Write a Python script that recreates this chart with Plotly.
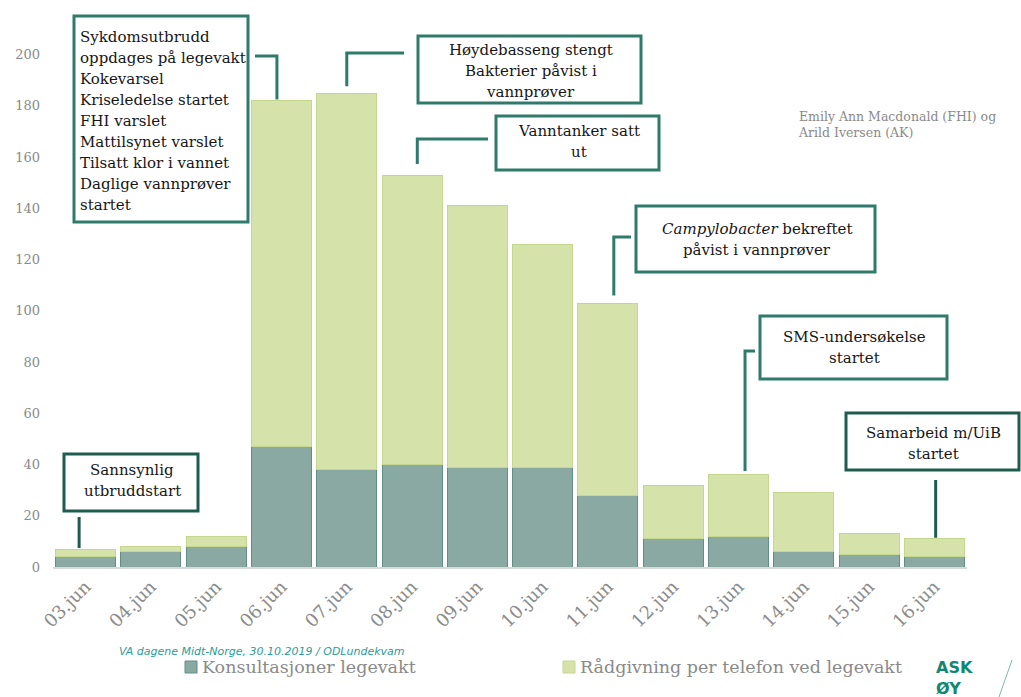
import plotly.graph_objects as go

# Daily contacts at the out-of-hours clinic, June 2019
days = ["03.jun", "04.jun", "05.jun", "06.jun", "07.jun", "08.jun", "09.jun",
        "10.jun", "11.jun", "12.jun", "13.jun", "14.jun", "15.jun", "16.jun"]
konsultasjoner = [4, 6, 8, 47, 38, 40, 39, 39, 28, 11, 12, 6, 5, 4]
telefon = [3, 2, 4, 135, 147, 113, 102, 87, 75, 21, 24, 23, 8, 7]
series_names = ["Konsultasjoner legevakt", "Rådgivning per telefon ved legevakt"]
y_ticks = [0, 20, 40, 60, 80, 100, 120, 140, 160, 180, 200]

totals = [a + b for a, b in zip(konsultasjoner, telefon)]

W, H = 1021, 697
L, R, T, B = 53, 54, 29, 130
YMAX = 210
plot_w = W - L - R
plot_h = H - T - B

DARK = "#8aa9a3"
DARK_LINE = "#5f8f86"
LIGHT = "#d5e2aa"
LIGHT_LINE = "#c4d78e"
BOX = "#2f7b6b"
BOX_DARK = "#1f5c50"
SERIF = "DejaVu Serif"
LINE_STEP = 21


def fx(px):
    return (px - L) / plot_w


def fy(py):
    return (H - B - py) / plot_h


def cat_x(i, shift=0.0):
    return (i + 0.5 + shift) / len(days)


fig = go.Figure()
fig.add_trace(go.Bar(x=days, y=konsultasjoner, name=series_names[0],
                     marker=dict(color=DARK, line=dict(color=DARK_LINE, width=1))))
fig.add_trace(go.Bar(x=days, y=telefon, name=series_names[1],
                     marker=dict(color=LIGHT, line=dict(color=LIGHT_LINE, width=1))))

shapes = []
annotations = []

# Event call-outs: box (px x0, y0, x1, y1), text lines, first line y, align, colour,
# connector elbow (px x, px y), bar index, x shift, gap above bar (units)
events = [
    ((74, 16, 248, 222),
     ["Sykdomsutbrudd", "oppdages på legevakt", "Kokevarsel", "Kriseledelse startet",
      "FHI varslet", "Mattilsynet varslet", "Tilsatt klor i vannet", "Daglige vannprøver",
      "startet"],
     37, "left", BOX, (255, 56), 3, -0.07, 0.5),
    ((418, 36, 641, 103), ["Høydebasseng stengt", "Bakterier påvist i", "vannprøver"],
     50, "center", BOX, (404, 53), 4, 0.0, 2.7),
    ((496, 116, 659, 170), ["Vanntanker satt", "ut"],
     131, "center", BOX, (488, 139), 5, 0.08, 4.3),
    ((636, 206, 875, 272), ["<i>Campylobacter</i> bekreftet", "påvist i vannprøver"],
     229, "center", BOX, (631, 237), 8, 0.09, 3.0),
    ((760, 316, 947, 379), ["SMS-undersøkelse", "startet"],
     337, "center", BOX, (755, 351), 10, 0.1, 1.5),
    ((846, 413, 1019, 470), ["Samarbeid m/UiB", "startet"],
     433, "center", BOX_DARK, (936, 480), 13, 0.02, 0.4),
    ((64, 454, 198, 511), ["Sannsynlig", "utbruddstart"],
     470, "center", BOX_DARK, (79, 517), 0, -0.1, 0.4),
]

for (bx0, by0, bx1, by1), lines, y_first, align, col, elbow, idx, shift, gap in events:
    shapes.append(dict(type="rect", xref="paper", yref="paper",
                       x0=fx(bx0), x1=fx(bx1), y0=fy(by1), y1=fy(by0),
                       line=dict(color=col, width=3), fillcolor="white", layer="above"))
    if align == "left":
        ax, xanchor = fx(bx0 + 4), "left"
    else:
        ax, xanchor = fx((bx0 + bx1) / 2 + 1), "center"
    for k, line in enumerate(lines):
        annotations.append(dict(xref="paper", yref="paper", x=ax,
                                y=fy(y_first + k * LINE_STEP), text=line,
                                showarrow=False, xanchor=xanchor, yanchor="middle",
                                font=dict(family=SERIF, size=15, color="#161616")))
    vx = cat_x(idx, shift)
    vy = (totals[idx] + gap) / YMAX
    ex, ey = elbow
    if idx in (0, 13):
        path = f"M {vx},{fy(ey)} L {vx},{vy}"
    else:
        path = f"M {fx(ex)},{fy(ey)} L {vx},{fy(ey)} L {vx},{vy}"
    shapes.append(dict(type="path", xref="paper", yref="paper", path=path,
                       line=dict(color=col, width=3), layer="above"))

# Legend drawn beneath the axis labels
legend_items = [(185, 200, DARK, DARK_LINE, series_names[0]),
                (563, 578, LIGHT, LIGHT_LINE, series_names[1])]
for sx, tx, fill, edge, label in legend_items:
    shapes.append(dict(type="rect", xref="paper", yref="paper",
                       x0=fx(sx), x1=fx(sx + 12), y0=fy(673), y1=fy(661),
                       fillcolor=fill, line=dict(color=edge, width=1)))
    annotations.append(dict(xref="paper", yref="paper", x=fx(tx), y=fy(667), text=label,
                            showarrow=False, xanchor="left", yanchor="middle",
                            font=dict(family=SERIF, size=17.5, color="#8a8a8a")))

# Source line
annotations.append(dict(xref="paper", yref="paper", x=fx(117), y=fy(651),
                        text="<i>VA dagene Midt-Norge, 30.10.2019 / ODLundekvam</i>",
                        showarrow=False, xanchor="left", yanchor="middle",
                        font=dict(family="DejaVu Sans", size=11, color="#2a9d9a")))

# Authors
annotations.append(dict(xref="paper", yref="paper", x=fx(796), y=fy(124.5),
                        text="Emily Ann Macdonald (FHI) og<br>Arild Iversen (AK)",
                        showarrow=False, xanchor="left", yanchor="middle", align="left",
                        font=dict(family=SERIF, size=12.5, color="#8a8a8a")))

# Municipality mark in the corner
annotations.append(dict(xref="paper", yref="paper", x=fx(934), y=fy(656),
                        text="<b>ASK<br>ØY</b>", showarrow=False,
                        xanchor="left", yanchor="top", align="left",
                        font=dict(family="DejaVu Sans", size=16, color="#12876f")))
shapes.append(dict(type="line", xref="paper", yref="paper",
                   x0=fx(999), y0=fy(697), x1=fx(1012), y1=fy(660),
                   line=dict(color="#7fb8aa", width=1)))

fig.update_layout(
    width=W, height=H,
    margin=dict(l=L, r=R, t=T, b=B, autoexpand=False),
    barmode="stack", bargap=0.08,
    plot_bgcolor="white", paper_bgcolor="white",
    showlegend=False,
    shapes=shapes, annotations=annotations,
    xaxis=dict(tickangle=-45, showline=True, linecolor="#d9d9d9", linewidth=2,
               ticks="", showgrid=False,
               tickfont=dict(family=SERIF, size=18, color="#8a8a8a")),
    yaxis=dict(range=[0, YMAX], tickvals=y_ticks, showgrid=False, zeroline=False,
               showline=False, ticks="", ticklabelstandoff=12,
               tickfont=dict(family=SERIF, size=13, color="#8a8a8a")),
)

fig.write_html("out.html")
